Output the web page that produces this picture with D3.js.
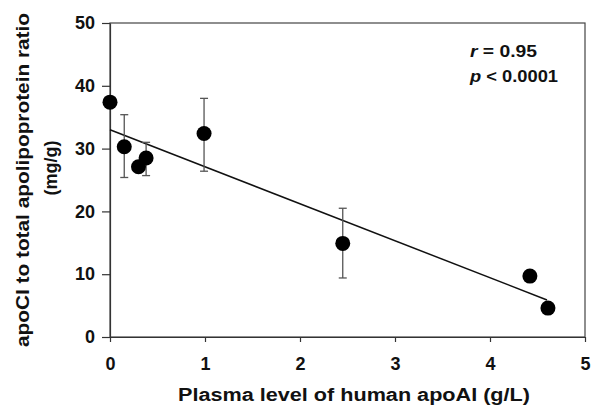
<!DOCTYPE html>
<html>
<head>
<meta charset="utf-8">
<script src="https://cdn.jsdelivr.net/npm/d3@7"></script>
<style>
	body { margin: 0; background: #fff; }
	svg { display: block; font-family: "Liberation Sans", Arial, sans-serif; }
	.axis text { font-size: 18px; font-weight: bold; fill: #111; }
	.axis path, .axis line { stroke: #333; stroke-width: 1.2; }
</style>
</head>
<body>
<script>
(function() {

"use strict";

// plasma apoAI (g/L) vs apoCI ratio (mg/g)
const APOAI = [0, 0.15, 0.30, 0.38, 0.99, 2.45, 4.42, 4.61];
const RATIO = [37.4, 30.3, 27.1, 28.5, 32.4, 14.9, 9.7, 4.6];
// error bars, null where none drawn
const ERR_HI = [null, 35.4, null, 31.0, 38.0, 20.5, null, null];
const ERR_LO = [null, 25.4, null, 25.7, 26.4, 9.4, null, null];

// regression line end points
const FIT_X = [0, 4.6];
const FIT_Y = [33.0, 5.9];

const X_TICKS = [0, 1, 2, 3, 4, 5];
const Y_TICKS = [0, 10, 20, 30, 40, 50];

const width = 595, height = 408;
const margin = {top: 23, right: 10, bottom: 71, left: 110};

let svg = d3.select(document.body).append("svg")
	.attr("width", width)
	.attr("height", height);

let scale = {
	x: d3.scaleLinear().domain([0, 5]).range([margin.left, width - margin.right]),
	y: d3.scaleLinear().domain([0, 50]).range([height - margin.bottom, margin.top]),
};

// frame
svg.append("rect")
	.attr("x", scale.x(0))
	.attr("y", scale.y(50))
	.attr("width", scale.x(5) - scale.x(0))
	.attr("height", scale.y(0) - scale.y(50))
	.attr("fill", "none")
	.attr("stroke", "#444")
	.attr("stroke-width", 1.2);

svg.append("g")
	.attr("class", "axis x")
	.attr("transform", `translate(0, ${scale.y(0)})`)
	.call(d3.axisBottom(scale.x).tickValues(X_TICKS).tickFormat(d3.format("d")).tickSize(5).tickSizeOuter(0).tickPadding(15));

svg.append("g")
	.attr("class", "axis y")
	.attr("transform", `translate(${scale.x(0)}, 0)`)
	.call(d3.axisLeft(scale.y).tickValues(Y_TICKS).tickFormat(d3.format("d")).tickSize(8).tickSizeOuter(0).tickPadding(7));

// fit line
let fit = FIT_X.map((x, i) => ({x, y: FIT_Y[i]}));
svg.append("path")
	.datum(fit)
	.attr("fill", "none")
	.attr("stroke", "#111")
	.attr("stroke-width", 1.5)
	.attr("d", d3.line().x(d => scale.x(d.x)).y(d => scale.y(d.y)));

let points = APOAI.map((x, i) => ({x, y: RATIO[i], hi: ERR_HI[i], lo: ERR_LO[i]}));

// error bars
let bars = svg.append("g")
	.attr("stroke", "#555")
	.attr("stroke-width", 1.3)
	.selectAll("g")
	.data(points.filter(d => d.hi !== null))
	.join("g");

bars.append("line")
	.attr("x1", d => scale.x(d.x)).attr("x2", d => scale.x(d.x))
	.attr("y1", d => scale.y(d.hi)).attr("y2", d => scale.y(d.lo));
bars.append("line")
	.attr("x1", d => scale.x(d.x) - 4).attr("x2", d => scale.x(d.x) + 4)
	.attr("y1", d => scale.y(d.hi)).attr("y2", d => scale.y(d.hi));
bars.append("line")
	.attr("x1", d => scale.x(d.x) - 4).attr("x2", d => scale.x(d.x) + 4)
	.attr("y1", d => scale.y(d.lo)).attr("y2", d => scale.y(d.lo));

svg.append("g")
	.selectAll("circle")
	.data(points)
	.join("circle")
		.attr("cx", d => scale.x(d.x))
		.attr("cy", d => scale.y(d.y))
		.attr("r", 7.5)
		.attr("fill", "#000");

// the source figure is stretched sideways, so titles get a fixed textLength
function label(x, y, str, len, size) {
	let t = svg.append("text")
		.attr("x", x)
		.attr("y", y)
		.attr("font-size", size)
		.attr("font-weight", "bold")
		.attr("fill", "#111")
		.text(str);
	if (len)
		t.attr("textLength", len).attr("lengthAdjust", "spacingAndGlyphs");
	return t;
}

label(354, 401, "Plasma level of human apoAI (g/L)", 352, 18)
	.attr("text-anchor", "middle");

label(0, 29, "apoCI to total apolipoprotein ratio", 334, 18)
	.attr("text-anchor", "middle")
	.attr("transform", "translate(0, 180) rotate(-90)");
label(0, 57, "(mg/g)", null, 18)
	.attr("text-anchor", "middle")
	.attr("transform", "translate(0, 168) rotate(-90)");

// stats
let r = label(470, 57, "", 67, 16);
r.append("tspan").attr("font-style", "italic").text("r");
r.append("tspan").text(" = 0.95");
let p = label(470, 82, "", 88, 16);
p.append("tspan").attr("font-style", "italic").text("p");
p.append("tspan").text(" < 0.0001");

})();
</script>
</body>
</html>
